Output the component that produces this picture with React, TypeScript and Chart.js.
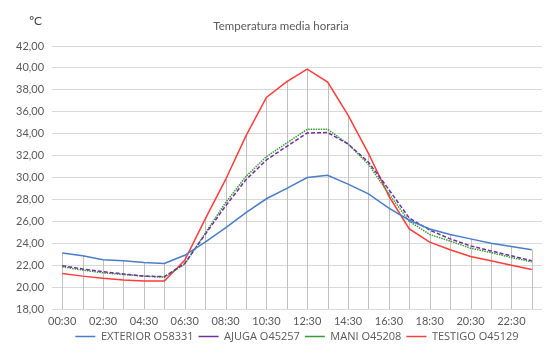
import React, { useEffect, useRef } from "react";
import { Chart, registerables } from "chart.js";

Chart.register(...registerables);

const hours = [
  "00:30", "01:30", "02:30", "03:30", "04:30", "05:30", "06:30", "07:30",
  "08:30", "09:30", "10:30", "11:30", "12:30", "13:30", "14:30", "15:30",
  "16:30", "17:30", "18:30", "19:30", "20:30", "21:30", "22:30", "23:30",
];

const exterior = [23.1, 22.85, 22.5, 22.4, 22.24, 22.15, 22.9, 24.1, 25.4, 26.8, 28.06, 29.0, 30.0, 30.2, 29.4, 28.5, 27.2, 26.1, 25.3, 24.8, 24.4, 24.0, 23.7, 23.4];
const ajuga = [21.95, 21.65, 21.4, 21.2, 21.0, 20.95, 22.15, 24.8, 27.4, 29.8, 31.6, 32.85, 34.06, 34.1, 33.06, 31.4, 28.9, 26.3, 25.2, 24.4, 23.76, 23.3, 22.85, 22.4];
const mani = [21.85, 21.55, 21.3, 21.15, 21.0, 20.9, 22.1, 24.9, 27.7, 30.1, 31.9, 33.15, 34.4, 34.4, 33.06, 31.2, 28.5, 26.0, 24.8, 24.2, 23.55, 23.15, 22.7, 22.3];
const testigo = [21.25, 21.0, 20.8, 20.65, 20.55, 20.55, 22.45, 26.2, 29.8, 33.8, 37.3, 38.75, 39.9, 38.7, 35.7, 32.2, 28.3, 25.3, 24.1, 23.4, 22.8, 22.4, 22.0, 21.6];

const seriesNames = ["EXTERIOR O58331", "AJUGA O45257", "MANI O45208", "TESTIGO O45129"];
const titleText = "Temperatura media horaria";
const unitText = "ºC";

const FONT = "Lato, 'Open Sans', sans-serif";
const LEGEND_FONT = "'Open Sans', Lato, sans-serif";
const GREY = "#595959";

const dropLines = {
  id: "dropLines",
  beforeDatasetsDraw(chart: any) {
    const { ctx, chartArea, scales } = chart;
    const n = chart.data.labels.length;
    ctx.save();
    ctx.strokeStyle = "#c0c0c0";
    ctx.lineWidth = 1;
    for (let i = 0; i < n; i++) {
      let max = -Infinity;
      chart.data.datasets.forEach((d: any) => {
        if (d.data[i] > max) max = d.data[i];
      });
      const x = Math.round(scales.x.getPixelForValue(i)) + 0.5;
      const y = scales.y.getPixelForValue(max);
      ctx.beginPath();
      ctx.moveTo(x, y);
      ctx.lineTo(x, chartArea.bottom);
      ctx.stroke();
    }
    ctx.restore();
  },
};

const texts = {
  id: "texts",
  afterDraw(chart: any) {
    const { ctx } = chart;
    ctx.save();
    ctx.fillStyle = GREY;
    ctx.textBaseline = "middle";
    ctx.font = `11.5px ${FONT}`;
    ctx.textAlign = "center";
    ctx.fillText(titleText, 281, 26);
    ctx.textAlign = "right";
    ctx.fillStyle = "#404040";
    ctx.font = `12px ${FONT}`;
    ctx.fillText(unitText, 42, 21);
    ctx.restore();
  },
};

export default function App() {
  const ref = useRef<HTMLCanvasElement>(null);
  useEffect(() => {
    if (!ref.current) return;
    const mk = (label: string, data: number[], color: string, dash: number[] = []) => ({
      label,
      data,
      borderColor: color,
      backgroundColor: color,
      borderWidth: 1.5,
      borderDash: dash,
      pointRadius: 0,
      pointHoverRadius: 0,
      tension: 0,
      fill: false,
    });
    const chart = new Chart(ref.current, {
      type: "line",
      data: {
        labels: hours,
        datasets: [
          mk(seriesNames[0], exterior, "#4a7dc9"),
          mk(seriesNames[1], ajuga, "#7030a0", [4, 2]),
          mk(seriesNames[2], mani, "#3a9a3a", [1.5, 1]),
          mk(seriesNames[3], testigo, "#ff3b3b"),
        ],
      },
      options: {
        animation: false,
        responsive: false,
        maintainAspectRatio: false,
        layout: { padding: { top: 46, left: 8, right: 8, bottom: 7 } },
        scales: {
          x: {
            offset: true,
            grid: { display: false, drawTicks: false, tickLength: 0 },
            border: { display: false },
            afterFit: (scale: any) => {
              scale.height = 17;
            },
            ticks: {
              color: GREY,
              font: { family: FONT, size: 11, lineHeight: 0.1 },
              maxRotation: 0,
              autoSkip: false,
              padding: 11.5,
              callback: (_v: any, i: number) => (i % 2 === 0 ? hours[i] : ""),
            },
          },
          y: {
            min: 18,
            max: 42,
            grid: { color: "#d9d9d9", drawTicks: false },
            border: { display: false },
            ticks: {
              stepSize: 2,
              color: GREY,
              padding: 8,
              font: { family: FONT, size: 11 },
              callback: (v: any) => Number(v).toFixed(2).replace(".", ","),
            },
          },
        },
        plugins: {
          legend: {
            position: "bottom",
            fullSize: false,
            labels: {
              usePointStyle: true,
              pointStyle: "line",
              pointStyleWidth: 20,
              boxHeight: 11,
              padding: 5,
              color: GREY,
              font: { family: LEGEND_FONT, size: 11 },
            },
          },
          title: { display: false },
          tooltip: { enabled: false },
        },
      },
      plugins: [dropLines, texts],
    });
    return () => chart.destroy();
  }, []);
  return (
    <div style={{ position: "absolute", left: 0, top: 0, width: 550, height: 359, background: "#fff" }}>
      <canvas ref={ref} width={550} height={359} />
    </div>
  );
}
